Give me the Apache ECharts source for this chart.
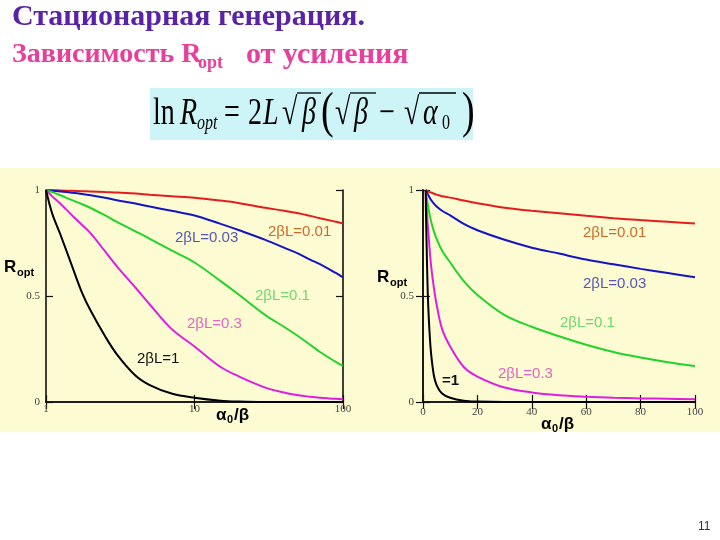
<!DOCTYPE html>
<html>
<head>
<meta charset="utf-8">
<script src="https://cdn.jsdelivr.net/npm/echarts@6/dist/echarts.min.js"></script>
<style>
html, body { margin: 0; padding: 0; background: #fff; }
#chart { width: 720px; height: 540px; }
</style>
</head>
<body>
<div id="chart"></div>
<script>
// alpha0/beta values where the curves were read
const alphaRatio = [1, 1.1, 1.25, 1.5, 1.75, 2, 2.5, 3, 4, 5, 7, 10, 15, 20, 30, 40, 50, 60, 70, 80, 90, 100];
// R_opt for each 2βL
const r001 = [1, 0.999, 0.998, 0.996, 0.994, 0.993, 0.99, 0.988, 0.983, 0.978, 0.971, 0.964, 0.95, 0.938, 0.916, 0.902, 0.89, 0.878, 0.867, 0.858, 0.85, 0.842];
const r003 = [1, 0.997, 0.993, 0.987, 0.981, 0.975, 0.963, 0.952, 0.936, 0.922, 0.902, 0.88, 0.84, 0.81, 0.765, 0.728, 0.7, 0.672, 0.65, 0.628, 0.608, 0.588];
const r01 = [1, 0.99, 0.975, 0.952, 0.933, 0.915, 0.88, 0.85, 0.805, 0.77, 0.715, 0.658, 0.57, 0.505, 0.41, 0.355, 0.31, 0.27, 0.236, 0.21, 0.188, 0.17];
const r03 = [1, 0.97, 0.935, 0.88, 0.835, 0.795, 0.71, 0.64, 0.54, 0.46, 0.345, 0.262, 0.165, 0.12, 0.068, 0.045, 0.032, 0.025, 0.02, 0.017, 0.015, 0.013];
const r1 = [1, 0.89, 0.79, 0.64, 0.515, 0.43, 0.31, 0.225, 0.125, 0.08, 0.04, 0.02, 0.006, 0.002, 0, 0, 0, 0, 0, 0, 0, 0];

const logTicks = [1, 10, 100];
const linTicks = [0, 20, 40, 60, 80, 100];
const rTicks = [0, 0.5, 1];

const curves = [
  { values: r001, color: '#e41c1c' },
  { values: r003, color: '#1414c4' },
  { values: r01, color: '#22d42a' },
  { values: r03, color: '#e01ee0' },
  { values: r1, color: '#000000' }
];

const myChart = echarts.init(document.getElementById('chart'));

const lineAx = { lineStyle: { color: '#111', width: 1.6 } };
const tickStyle = { inside: true, length: 7, lineStyle: { color: '#111', width: 1.2 } };
const tickFont = { fontFamily: 'Liberation Serif', fontSize: 11, color: '#444' };

function xAxes(grid, isLog) {
  const base = isLog
    ? { type: 'log', logBase: 10, min: 1, max: 100 }
    : { type: 'value', min: 0, max: 100, interval: 20 };
  const ticks = isLog ? logTicks : linTicks;
  return [
    Object.assign({}, base, {
      gridIndex: grid, position: 'bottom', axisLine: lineAx, splitLine: { show: false },
      axisTick: Object.assign({ customValues: ticks }, tickStyle),
      axisLabel: Object.assign({ customValues: ticks, margin: isLog ? 2 : 5 }, tickFont)
    }),
    Object.assign({}, base, {
      gridIndex: grid, position: 'top', axisLine: lineAx, splitLine: { show: false },
      axisTick: Object.assign({ customValues: ticks }, tickStyle),
      axisLabel: { show: false }
    })
  ];
}

function yAxes(grid, margin) {
  return [
    {
      gridIndex: grid, type: 'value', min: 0, max: 1, interval: 0.5, position: 'left',
      axisLine: lineAx, splitLine: { show: false },
      axisTick: Object.assign({ customValues: rTicks }, tickStyle),
      axisLabel: Object.assign({ customValues: rTicks, margin: margin }, tickFont)
    },
    {
      gridIndex: grid, type: 'value', min: 0, max: 1, interval: 0.5, position: 'right',
      axisLine: lineAx, splitLine: { show: false },
      axisTick: Object.assign({ customValues: rTicks }, tickStyle),
      axisLabel: { show: false }
    }
  ];
}

function makeSeries(axisIdx) {
  return curves.map(c => ({
    type: 'line',
    xAxisIndex: axisIdx,
    yAxisIndex: axisIdx,
    data: alphaRatio.map((x, i) => [x, c.values[i]]),
    showSymbol: false,
    smooth: 0.35,
    lineStyle: { color: c.color, width: 2 },
    silent: true
  }));
}

function txt(text, x, y, color, size, extra) {
  return {
    type: 'text', x: x, y: y, z: 10,
    style: Object.assign({
      text: text, fill: color, fontSize: size, fontFamily: 'Liberation Sans',
      verticalAlign: 'middle', align: 'left'
    }, extra || {})
  };
}

const serif = 'Liberation Serif';
function ftxt(text, x, dy, size, italic) {
  return {
    type: 'text', x: x, y: dy,
    style: {
      text: text, fill: '#000', fontSize: size, fontFamily: serif,
      fontStyle: italic ? 'italic' : 'normal', verticalAlign: 'middle'
    }
  };
}

const titleBold = { fontFamily: serif, fontWeight: 'bold' };

const graphics = [
  // yellow band behind the two plots
  { type: 'rect', z: -10, shape: { x: 0, y: 168, width: 720, height: 264 }, style: { fill: '#fdfbd2' } },
  // titles
  txt('Стационарная генерация.', 12, 17, '#5a22a6', 30, titleBold),
  txt('Зависимость R', 12, 55, '#e6409c', 28, titleBold),
  txt('opt', 198, 63, '#e6409c', 18, titleBold),
  txt('от усиления', 246, 55, '#e6409c', 30, titleBold),
  // formula box
  { type: 'rect', z: -5, shape: { x: 150, y: 88, width: 323, height: 52 }, style: { fill: '#cdf5f7' } },
  {
    type: 'group', x: 0, y: 114, scaleY: 1.35, z: 5,
    children: [
      ftxt('ln', 153, 0, 28, false),
      ftxt('R', 180, 0, 28, true),
      ftxt('opt', 197, 7, 16, true),
      ftxt('=', 224, 0, 28, false),
      ftxt('2', 248, 0, 28, false),
      ftxt('L', 263, 0, 28, true),
      ftxt('√', 282, 0, 28, false),
      ftxt('β', 302, 0, 28, true),
      ftxt('(', 321, 0, 38, false),
      ftxt('√', 335, 0, 28, false),
      ftxt('β', 354, 0, 28, true),
      ftxt('−', 379, 0, 28, false),
      ftxt('√', 404, 0, 28, false),
      ftxt('α', 423, 0, 28, true),
      ftxt('0', 442, 7, 16, false),
      ftxt(')', 462, 0, 38, false)
    ]
  },
  { type: 'line', z: 6, shape: { x1: 297, y1: 93, x2: 321, y2: 93 }, style: { stroke: '#000', lineWidth: 1.3 } },
  { type: 'line', z: 6, shape: { x1: 350, y1: 93, x2: 376, y2: 93 }, style: { stroke: '#000', lineWidth: 1.3 } },
  { type: 'line', z: 6, shape: { x1: 419, y1: 93, x2: 456, y2: 93 }, style: { stroke: '#000', lineWidth: 1.3 } },

  // left plot labels
  txt('2βL=0.01', 268, 232, '#cc6a2a', 15),
  txt('2βL=0.03', 175, 238, '#5656b8', 15),
  txt('2βL=0.1', 255, 296, '#6ed86e', 15),
  txt('2βL=0.3', 187, 324, '#e066c0', 15),
  txt('2βL=1', 137, 359, '#111', 15),
  txt('R', 4, 267, '#000', 17, { fontWeight: 'bold' }),
  txt('opt', 17, 273, '#000', 11, { fontWeight: 'bold' }),
  txt('α', 216, 415, '#000', 17, { fontWeight: 'bold' }),
  txt('0', 227, 420, '#000', 11, { fontWeight: 'bold' }),
  txt('/β', 234, 415, '#000', 17, { fontWeight: 'bold' }),

  // right plot labels
  txt('2βL=0.01', 583, 233, '#cc6a2a', 15),
  txt('2βL=0.03', 583, 284, '#5656b8', 15),
  txt('2βL=0.1', 560, 323, '#6ed86e', 15),
  txt('2βL=0.3', 498, 374, '#e066c0', 15),
  txt('=1', 442, 381, '#111', 15, { fontWeight: 'bold' }),
  txt('R', 377, 277, '#000', 17, { fontWeight: 'bold' }),
  txt('opt', 390, 283, '#000', 11, { fontWeight: 'bold' }),
  txt('α', 541, 424, '#000', 17, { fontWeight: 'bold' }),
  txt('0', 552, 429, '#000', 11, { fontWeight: 'bold' }),
  txt('/β', 559, 424, '#000', 17, { fontWeight: 'bold' }),

  // slide number
  txt('11', 698, 527, '#333', 12)
];

const option = {
  animation: false,
  grid: [
    { left: 46, top: 190, width: 297, height: 212, containLabel: false },
    { left: 423, top: 190, width: 272, height: 212, containLabel: false }
  ],
  xAxis: xAxes(0, true).concat(xAxes(1, false)),
  yAxis: yAxes(0, 6).concat(yAxes(1, 9)),
  series: makeSeries(0).concat(makeSeries(2)),
  graphic: graphics
};

myChart.setOption(option);
</script>
</body>
</html>
